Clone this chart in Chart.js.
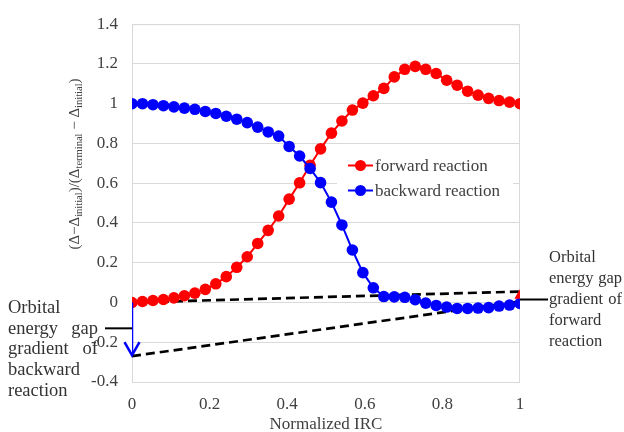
<!DOCTYPE html>
<html><head><meta charset="utf-8">
<script src="https://cdn.jsdelivr.net/npm/chart.js@4.4.0/dist/chart.umd.min.js"></script>
<style>html,body{margin:0;padding:0;background:#fff;}#wrap{width:624px;height:432px;}</style>
</head><body><div id="wrap"><canvas id="c" width="624" height="432"></canvas></div>
<script>
// ---- data ----
const irc = [0, 0.027, 0.054, 0.081, 0.108, 0.135, 0.162, 0.189, 0.216, 0.243, 0.270, 0.297, 0.324, 0.351, 0.378, 0.405, 0.432, 0.459, 0.486, 0.514, 0.541, 0.568, 0.595, 0.622, 0.649, 0.676, 0.703, 0.730, 0.757, 0.784, 0.811, 0.838, 0.865, 0.892, 0.919, 0.946, 0.973, 1];
const forward = [0, 0.005, 0.01, 0.015, 0.023, 0.034, 0.047, 0.066, 0.094, 0.13, 0.177, 0.23, 0.297, 0.363, 0.435, 0.52, 0.602, 0.69, 0.773, 0.852, 0.913, 0.968, 1.003, 1.04, 1.077, 1.135, 1.173, 1.188, 1.173, 1.152, 1.118, 1.093, 1.063, 1.043, 1.027, 1.016, 1.008, 1.0];
const backward = [1.0, 1.0, 0.995, 0.99, 0.984, 0.978, 0.972, 0.961, 0.951, 0.937, 0.922, 0.905, 0.882, 0.858, 0.837, 0.785, 0.737, 0.674, 0.603, 0.505, 0.39, 0.264, 0.15, 0.074, 0.03, 0.028, 0.026, 0.014, -0.003, -0.015, -0.023, -0.03, -0.03, -0.028, -0.026, -0.018, -0.013, -0.005];
const gapX = [0, 1];
const gapForwardY = [0, 0.055];
const gapBackwardY = [-0.27, 0.005];
const arrowBackX = [0, 0];
const arrowBackY = [0, -0.265];
const arrowFwd = {x: 1, y: 0.035};
const connLeftY = -0.13;
const connRightY = 0.015;
const seriesNames = ['forward reaction', 'backward reaction'];
const xTickValues = [0, 0.2, 0.4, 0.6, 0.8, 1];
const xTickLabels = ['0', '0.2', '0.4', '0.6', '0.8', '1'];
const yTickValues = [-0.4, -0.2, 0, 0.2, 0.4, 0.6, 0.8, 1, 1.2, 1.4];
const yTickLabels = ['-0.4', '-0.2', '0', '0.2', '0.4', '0.6', '0.8', '1', '1.2', '1.4'];
const xTitle = 'Normalized IRC';
const yTitleParts = [['(Δ−Δ', 0], ['initial', 1], [')/(Δ', 0], ['terminal', 1], [' − Δ', 0], ['initial', 1], [')', 0]];
const noteLeft = [['Orbital'], ['energy', 'gap'], ['gradient', 'of'], ['backward'], ['reaction']];
const noteRight = [['Orbital'], ['energy', 'gap'], ['gradient', 'of'], ['forward'], ['reaction']];

const RED = '#ff0000', BLUE = '#0000ff', TXT = '#404040', GRID = '#d9d9d9';
const SERIF = '"Liberation Serif", "Times New Roman", serif';
const pts = (xs, ys) => xs.map((x, i) => ({x: x, y: ys[i]}));

const deco = {
  id: 'deco',
  beforeDatasetsDraw(chart) {
    const {ctx, chartArea: a} = chart;
    ctx.save();
    ctx.strokeStyle = GRID; ctx.lineWidth = 1;
    ctx.strokeRect(a.left + 0.5, a.top + 0.5, a.right - a.left - 1, a.bottom - a.top);
    // legend background
    ctx.fillStyle = '#fff';
    ctx.fillRect(337, 148, 176, 62);
    ctx.restore();
  },
  afterDatasetsDraw(chart) {
    const {ctx} = chart;
    const xs = chart.scales.x, ys = chart.scales.y;
    ctx.save();
    // blue arrow head
    const tx = xs.getPixelForValue(arrowBackX[1]), ty = ys.getPixelForValue(arrowBackY[1]);
    ctx.strokeStyle = BLUE; ctx.lineWidth = 2.5; ctx.lineJoin = 'miter';
    ctx.beginPath(); ctx.moveTo(tx - 7.5, ty - 13); ctx.lineTo(tx, ty); ctx.lineTo(tx + 7.5, ty - 13); ctx.stroke();
    // connectors
    ctx.strokeStyle = '#000'; ctx.lineWidth = 2;
    const l0 = xs.getPixelForValue(0), r1 = xs.getPixelForValue(1);
    let yl = ys.getPixelForValue(connLeftY), yr = ys.getPixelForValue(connRightY);
    ctx.beginPath(); ctx.moveTo(105, yl); ctx.lineTo(l0, yl); ctx.stroke();
    ctx.beginPath(); ctx.moveTo(r1, yr); ctx.lineTo(548, yr); ctx.stroke();
    // legend
    const colors = [RED, BLUE], ly = [165.5, 190.5];
    ctx.font = '17px ' + SERIF; ctx.textBaseline = 'middle'; ctx.textAlign = 'left';
    for (let i = 0; i < 2; i++) {
      ctx.strokeStyle = colors[i]; ctx.lineWidth = 2;
      ctx.beginPath(); ctx.moveTo(348, ly[i]); ctx.lineTo(373, ly[i]); ctx.stroke();
      ctx.fillStyle = colors[i];
      ctx.beginPath(); ctx.arc(360.5, ly[i], 5.5, 0, Math.PI * 2); ctx.fill();
      ctx.fillStyle = TXT; ctx.fillText(seriesNames[i], 375, ly[i] + 1);
    }
    // notes
    const drawNote = (lines, x0, width, y0, dy, size) => {
      ctx.font = size + 'px ' + SERIF; ctx.fillStyle = '#333'; ctx.textBaseline = 'middle';
      lines.forEach((words, i) => {
        const y = y0 + i * dy;
        ctx.textAlign = 'left';
        ctx.fillText(words[0], x0, y);
        if (words.length > 1) { ctx.textAlign = 'right'; ctx.fillText(words[1], x0 + width, y); }
      });
    };
    drawNote(noteLeft, 8, 90, 308, 20.8, 18.5);
    drawNote(noteRight, 549, 73, 258, 21, 16.5);
    // x title
    ctx.font = '17px ' + SERIF; ctx.fillStyle = TXT; ctx.textAlign = 'center'; ctx.textBaseline = 'middle';
    ctx.fillText(xTitle, (xs.left + xs.right) / 2, 425);
    // y title
    ctx.translate(79, 164); ctx.rotate(-Math.PI / 2);
    ctx.textAlign = 'left'; ctx.textBaseline = 'alphabetic';
    const fMain = '15px ' + SERIF, fSub = '10.5px ' + SERIF;
    let total = 0;
    yTitleParts.forEach(p => { ctx.font = p[1] ? fSub : fMain; total += ctx.measureText(p[0]).width; });
    let cx = -total / 2;
    yTitleParts.forEach(p => {
      ctx.font = p[1] ? fSub : fMain;
      ctx.fillText(p[0], cx, p[1] ? 3 : 0);
      cx += ctx.measureText(p[0]).width;
    });
    ctx.restore();
  }
};

new Chart(document.getElementById('c'), {
  type: 'line',
  data: {
    datasets: [
      {label: seriesNames[0], data: pts(irc, forward), borderColor: RED, backgroundColor: RED, borderWidth: 2, pointRadius: 5.8, pointBorderWidth: 0, pointBackgroundColor: RED, order: 2},
      {label: seriesNames[1], data: pts(irc, backward), borderColor: BLUE, backgroundColor: BLUE, borderWidth: 2, pointRadius: 5.8, pointBorderWidth: 0, pointBackgroundColor: BLUE, order: 1},
      {label: 'gf', data: pts(gapX, gapForwardY), borderColor: '#000', borderWidth: 2.7, borderDash: [9, 5], pointRadius: 0, order: 3},
      {label: 'gb', data: pts(gapX, gapBackwardY), borderColor: '#000', borderWidth: 2.7, borderDash: [9, 5], pointRadius: 0, order: 3},
      {label: 'ab', data: pts(arrowBackX, arrowBackY), borderColor: BLUE, borderWidth: 2.5, pointRadius: 0, order: 0},
      {label: 'af', data: [arrowFwd], showLine: false, pointStyle: 'triangle', pointRadius: 6.5, pointBackgroundColor: RED, pointBorderColor: RED, pointBorderWidth: 0, order: -1}
    ]
  },
  options: {
    responsive: false, animation: false, devicePixelRatio: 1,
    layout: {padding: {left: 0, right: 104, top: 22, bottom: 0}},
    plugins: {legend: {display: false}, tooltip: {enabled: false}},
    scales: {
      x: {
        type: 'linear', min: 0, max: 1,
        afterFit(s) { s.height = 50; },
        afterBuildTicks(s) { s.ticks = xTickValues.map(v => ({value: v})); },
        ticks: {callback: (v, i) => xTickLabels[i], color: TXT, font: {family: SERIF, size: 17}, padding: 4, maxRotation: 0},
        grid: {display: false},
        border: {display: false}
      },
      y: {
        type: 'linear', min: -0.4, max: 1.4,
        afterFit(s) { s.width = 132; },
        afterBuildTicks(s) { s.ticks = yTickValues.map(v => ({value: v})); },
        ticks: {callback: (v, i) => yTickLabels[i], color: TXT, font: {family: SERIF, size: 17}, padding: 14},
        grid: {color: GRID, lineWidth: 1, drawTicks: false},
        border: {display: true, color: GRID}
      }
    }
  },
  plugins: [deco]
});
</script></body></html>
